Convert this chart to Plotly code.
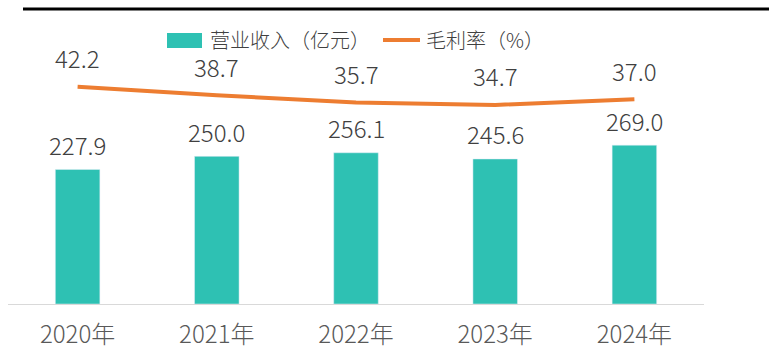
import plotly.graph_objects as go

years = ["2020年", "2021年", "2022年", "2023年", "2024年"]
revenue = [227.9, 250.0, 256.1, 245.6, 269.0]
margin = [42.2, 38.7, 35.7, 34.7, 37.0]

BAR_COLOR = "#2EC1B3"
LINE_COLOR = "#ED7D31"
TXT = "#404040"
FONT = "Noto Sans CJK SC"
WEIGHT = 300

fig = go.Figure()
fig.add_trace(go.Bar(x=years, y=revenue, name="营业收入（亿元）", marker_color=BAR_COLOR,
                     width=0.32, showlegend=False, yaxis="y"))
fig.add_trace(go.Scatter(x=years, y=margin, name="毛利率（%）", mode="lines",
                         line=dict(color=LINE_COLOR, width=4), showlegend=False, yaxis="y2"))

annotations = []
for x, v in zip(years, revenue):
    annotations.append(dict(x=x, y=v, xref="x", yref="y", text=f"{v:.1f}", showarrow=False,
                            yshift=25, font=dict(size=24, color=TXT, family=FONT, weight=WEIGHT)))
for x, v in zip(years, margin):
    annotations.append(dict(x=x, y=v, xref="x", yref="y2", text=f"{v:.1f}", showarrow=False,
                            yshift=29, font=dict(size=24, color=TXT, family=FONT, weight=WEIGHT)))

W, H = 769, 349
ml, mr, mt, mb = 8, 65, 30, 45
pw, ph = W - ml - mr, H - mt - mb
def px(xp):
    return (xp - ml) / pw
def py(yp):
    return (H - mb - yp) / ph

shapes = [
    dict(type="rect", xref="paper", yref="paper", x0=px(167), x1=px(202), y0=py(48), y1=py(33),
         fillcolor=BAR_COLOR, line=dict(width=0)),
    dict(type="line", xref="paper", yref="paper", x0=px(383), x1=px(420), y0=py(40), y1=py(40),
         line=dict(color=LINE_COLOR, width=4)),
    dict(type="line", xref="paper", yref="paper", x0=px(23), x1=px(769), y0=py(9), y1=py(9),
         line=dict(color="#000000", width=3)),
]
annotations.append(dict(x=px(208), y=py(39), xref="paper", yref="paper", xanchor="left", yanchor="middle",
                        text="营业收入（亿元）", showarrow=False,
                        font=dict(size=20, color=TXT, family=FONT, weight=WEIGHT)))
annotations.append(dict(x=px(424), y=py(39), xref="paper", yref="paper", xanchor="left", yanchor="middle",
                        text="毛利率（%）", showarrow=False,
                        font=dict(size=20, color=TXT, family=FONT, weight=WEIGHT)))

fig.update_layout(
    width=W, height=H,
    margin=dict(l=ml, r=mr, t=mt, b=mb),
    paper_bgcolor="white", plot_bgcolor="white",
    xaxis=dict(showline=True, linecolor="#D9D9D9", linewidth=1, showgrid=False, zeroline=False,
               tickfont=dict(size=24, color="#595959", family=FONT, weight=WEIGHT), ticks="",
               ticklabelstandoff=9, automargin=False),
    yaxis=dict(range=[0, 464], visible=False, showgrid=False, zeroline=False, automargin=False),
    yaxis2=dict(range=[-46.8, 65.4], overlaying="y", visible=False, showgrid=False, zeroline=False,
                automargin=False),
    annotations=annotations, shapes=shapes,
    font=dict(family=FONT),
)

fig.write_html("out.html")
